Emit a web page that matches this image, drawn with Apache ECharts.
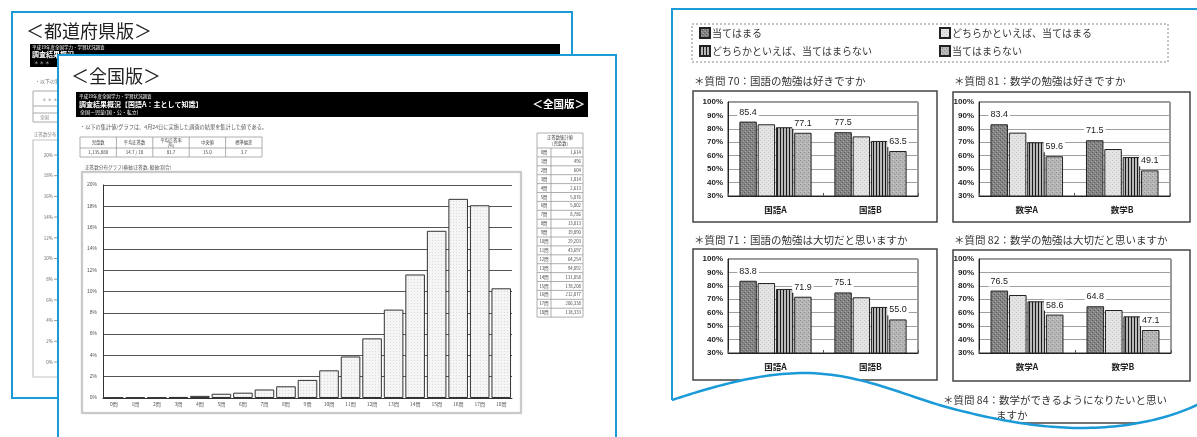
<!DOCTYPE html>
<html><head><meta charset="utf-8">
<script src="https://cdn.jsdelivr.net/npm/echarts@6/dist/echarts.min.js"></script>
<style>html,body{margin:0;padding:0;background:#fff}#c{width:1197px;height:437px}</style>
</head><body><div id="c"></div>
<script>
// ---------- DATA ----------
const histCategories = ['0問','1問','2問','3問','4問','5問','6問','7問','8問','9問','10問','11問','12問','13問','14問','15問','16問','17問','18問'];
const histPercent = [0.05,0.05,0.05,0.1,0.2,0.4,0.5,0.8,1.1,1.7,2.6,3.9,5.6,8.3,11.6,15.7,18.7,18.1,10.3];
const histTickLabels = ['20%','18%','16%','14%','12%','10%','8%','6%','4%','2%','0%'];
const countValues = ['1,614','496','604','1,014','2,613','5,076','5,802','8,786','13,013','19,890','29,203','43,697','64,254','94,092','131,058','178,208','212,077','206,338','118,333'];
const summaryHeaders = ['児童数','平均正答数','平均正答率\n(%)','中央値','標準偏差'];
const summaryValues = ['1,135,880','14.7 / 18','81.7','15.0','3.7'];

const seriesNames = ['当てはまる','どちらかといえば、当てはまる','どちらかといえば、当てはまらない','当てはまらない'];
const kokugoCats = ['国語A','国語B'];
const sugakuCats = ['数学A','数学B'];
// values per answer (series), per category
const q70 = [[85.4,77.5],[83.4,74.4],[81.2,71.0],[77.1,63.5]];
const q81 = [[83.4,71.5],[77.2,65.0],[70.0,59.0],[59.6,49.1]];
const q71 = [[83.8,75.1],[82.1,71.5],[77.7,64.3],[71.9,55.0]];
const q82 = [[76.5,64.8],[73.2,62.0],[68.5,57.3],[58.6,47.1]];
const chartTitles = ['＊質問 70：国語の勉強は好きですか','＊質問 81：数学の勉強は好きですか','＊質問 71：国語の勉強は大切だと思いますか','＊質問 82：数学の勉強は大切だと思いますか'];

// ---------- STYLE HELPERS ----------
const FONT = '"Noto Sans CJK JP","Noto Sans",sans-serif';
const BLUE = '#1b9ad8';
function pat(w,h,bg,px){
  const c=document.createElement('canvas');c.width=w;c.height=h;
  const g=c.getContext('2d');g.fillStyle=bg;g.fillRect(0,0,w,h);
  px.forEach(p=>{g.fillStyle=p[2];g.fillRect(p[0],p[1],1,1);});
  return {image:c,repeat:'repeat'};
}
function stripe(){
  const c=document.createElement('canvas');c.width=3;c.height=2;
  const g=c.getContext('2d');g.fillStyle='#b8b8b8';g.fillRect(0,0,3,2);g.fillStyle='#1a1a1a';g.fillRect(0,0,1,2);
  return {image:c,repeat:'repeat'};
}
const pats = [
  pat(4,4,'#858585',[[0,0,'#5c5c5c'],[2,2,'#5c5c5c'],[1,3,'#a2a2a2'],[3,1,'#a2a2a2']]),
  pat(4,4,'#e3e3e3',[[0,0,'#c6c6c6'],[2,2,'#c6c6c6']]),
  stripe(),
  pat(4,4,'#b6b6b6',[[0,0,'#909090'],[2,2,'#909090'],[1,3,'#d2d2d2']])
];
const histPat = pat(3,3,'#f5f5f5',[[0,0,'#dadada']]);

const G = [];
function rect(x,y,w,h,style,z){G.push({type:'rect',shape:{x,y,width:w,height:h},style,z,silent:true});}
function line(x1,y1,x2,y2,stroke,lw,z,dash){G.push({type:'line',shape:{x1,y1,x2,y2},style:{stroke,lineWidth:lw,lineDash:dash||null},z,silent:true});}
function text(x,y,t,size,color,z,extra){G.push({type:'text',x,y,style:Object.assign({text:t,fontSize:size,fontFamily:FONT,fill:color,verticalAlign:'middle',textVerticalAlign:'middle'},extra||{}),z,silent:true});}

// ---------- BACK DOCUMENT (都道府県版) ----------
rect(12,12,560,386,{fill:'#fff',stroke:BLUE,lineWidth:2},1);
text(26,31,'＜都道府県版＞',18,'#222',1);
rect(30,44,530,23,{fill:'#000'},1);
text(32,47,'平成19年度全国学力・学習状況調査',4.5,'#fff',1);
text(32,54,'調査結果概況',7,'#fff',1,{fontWeight:'bold'});
text(34,62,'＊ ＊ ＊',4.5,'#ccc',1);
text(35,81,'・以下の集計値',5,'#777',1);
rect(33,91,200,31,{fill:'none',stroke:'#aaa',lineWidth:1},1);
line(33,106,233,106,'#aaa',1,1);line(33,113,233,113,'#aaa',1,1);
text(42,99,'＊ ＊ ＊',4.5,'#888',1);
text(40,117,'全国',4.5,'#888',1);
text(34,134,'正答数分布グラフ',4.5,'#888',1);
rect(33,140,540,237,{fill:'none',stroke:'#c4c4c4',lineWidth:1.2},1);
histTickLabels.forEach((t,i)=>{text(53,155+i*20.7,t,4.5,'#666',1,{align:'right',textAlign:'right'});line(54,155+i*20.7,57,155+i*20.7,'#999',1,1);});

// ---------- FRONT DOCUMENT (全国版) ----------
rect(58,55,558,400,{fill:'#fff',stroke:BLUE,lineWidth:2},2);
text(71,76,'＜全国版＞',18,'#222',3);
rect(76,92,512,25,{fill:'#000'},3);
text(79,96,'平成19年度全国学力・学習状況調査',4.5,'#fff',4);
text(79,104,'調査結果概況【国語A：主として知識】',7,'#fff',4,{fontWeight:'bold'});
text(80,112,'全国－児童(国・公・私立)',5,'#fff',4);
text(585,104,'＜全国版＞',10.5,'#fff',4,{fontWeight:'bold',align:'right',textAlign:'right'});
text(80,127,'・以下の集計値/グラフは、4月24日に実施した調査の結果を集計した値である。',5.2,'#555',3);
// summary table
(function(){
  const x0=80,w=36.4,y0=137,h1=11,h2=9;
  rect(x0,y0,w*5,h1+h2,{fill:'#fff',stroke:'#999',lineWidth:0.8},3);
  line(x0,y0+h1,x0+w*5,y0+h1,'#999',0.8,3);
  for(let i=1;i<5;i++) line(x0+w*i,y0,x0+w*i,y0+h1+h2,'#999',0.8,3);
  summaryHeaders.forEach((t,i)=>text(x0+w*i+w/2,y0+h1/2,t,4.3,'#444',4,{align:'center',textAlign:'center',lineHeight:5}));
  summaryValues.forEach((t,i)=>text(x0+w*i+w/2,y0+h1+h2/2,t,4.5,'#444',4,{align:'center',textAlign:'center'}));
})();
// side count table
(function(){
  const x0=537,w=46,y0=133,hh=15,rh=8.9,xm=551;
  const n=histCategories.length;
  rect(x0,y0,w,hh+rh*n,{fill:'#fff',stroke:'#999',lineWidth:0.8},3);
  text(x0+w/2,y0+4.5,'正答数集計値',4.3,'#444',4,{align:'center',textAlign:'center'});
  text(x0+w/2,y0+10,'(児童数)',4.3,'#444',4,{align:'center',textAlign:'center'});
  line(xm,y0+hh,xm,y0+hh+rh*n,'#999',0.8,3);
  for(let i=0;i<n;i++){
    const y=y0+hh+rh*i;
    line(x0,y,x0+w,y,'#999',0.8,3);
    text((x0+xm)/2,y+rh/2,histCategories[i],4.3,'#444',4,{align:'center',textAlign:'center'});
    text(x0+w-2,y+rh/2,countValues[i],4.3,'#444',4,{align:'right',textAlign:'right'});
  }
})();
text(85,167,'正答数分布グラフ(横軸:正答数, 縦軸:割合)',4.6,'#555',3);
rect(82,172,439,241,{fill:'#fff',stroke:'#c0c0c0',lineWidth:1.5,shadowBlur:2,shadowColor:'rgba(0,0,0,0.15)'},3);

// ---------- RIGHT PANEL ----------
rect(692,24,476,38,{fill:'none',stroke:'#888',lineWidth:1,lineDash:[2,2]},3);
const titlePos=[[694,81],[954,81],[694,240],[954,240]];
titlePos.forEach((p,i)=>text(p[0],p[1],chartTitles[i],10.5,'#333',3));
const boxes=[[693,91,244,131],[953,92,237,130],[693,249,244,131],[953,250,237,131]];
boxes.forEach(b=>rect(b[0],b[1],b[2],b[3],{fill:'none',stroke:'#444',lineWidth:1.5},3));
text(943,400,'＊質問 84：数学ができるようになりたいと思い',10.5,'#333',3);
text(996,415,'ますか',10.5,'#333',3);
line(953,423,1190,423,'#444',1.5,3);
// wave edge
function cubic(p0,p1,p2,p3,n,out){for(let i=1;i<=n;i++){const t=i/n,u=1-t;out.push([u*u*u*p0[0]+3*u*u*t*p1[0]+3*u*t*t*p2[0]+t*t*t*p3[0],u*u*u*p0[1]+3*u*u*t*p1[1]+3*u*t*t*p2[1]+t*t*t*p3[1]]);}}
const wave=[[672,400]];
[[[672,400],[715,386],[760,373],[804,373]],[[804,373],[860,373],[905,396],[950,408]],[[950,408],[995,420],[1040,428],[1081,428]],[[1081,428],[1130,428],[1170,418],[1199,404]]].forEach(s=>cubic(s[0],s[1],s[2],s[3],30,wave));
G.push({type:'polygon',shape:{points:wave.concat([[1199,440],[672,440]])},style:{fill:'#fff'},z:30,silent:true});
G.push({type:'polyline',shape:{points:[[672,400],[672,9],[1199,9]]},style:{stroke:BLUE,lineWidth:2,fill:null},z:31,silent:true});
G.push({type:'polyline',shape:{points:wave},style:{stroke:BLUE,lineWidth:2.5,fill:null},z:31,silent:true});

// ---------- GRIDS / AXES / SERIES ----------
const grids=[
  {left:103,top:185,width:409,height:213,z:8},
  {left:728,top:102,width:190,height:94,show:true,borderColor:'#333',borderWidth:1,backgroundColor:'#fff',z:8},
  {left:979,top:102,width:191,height:94,show:true,borderColor:'#333',borderWidth:1,backgroundColor:'#fff',z:8},
  {left:728,top:259,width:190,height:94,show:true,borderColor:'#333',borderWidth:1,backgroundColor:'#fff',z:8},
  {left:979,top:259,width:192,height:94,show:true,borderColor:'#333',borderWidth:1,backgroundColor:'#fff',z:8}
];
const xAxes=[{type:'category',gridIndex:0,data:histCategories,z:9,
  axisLine:{lineStyle:{color:'#333',width:1}},axisTick:{show:false},
  axisLabel:{fontSize:5,color:'#555',margin:4,interval:0,fontFamily:FONT}}];
const yAxes=[{type:'value',gridIndex:0,min:0,max:20,interval:2,z:9,
  axisLine:{show:true,lineStyle:{color:'#333'}},axisTick:{show:false},
  axisLabel:{fontSize:5,color:'#555',margin:6,formatter:'{value}%'},
  splitLine:{lineStyle:{color:'#555',width:1}}}];
const series=[{type:'bar',xAxisIndex:0,yAxisIndex:0,data:histPercent,barCategoryGap:'9%',z:10,
  itemStyle:{color:histPat,borderColor:'#333',borderWidth:1}}];
const charts=[[kokugoCats,q70],[sugakuCats,q81],[kokugoCats,q71],[sugakuCats,q82]];
charts.forEach((c,k)=>{
  const gi=k+1;
  xAxes.push({type:'category',gridIndex:gi,data:c[0],z:9,
    axisLine:{lineStyle:{color:'#222',width:1}},
    axisTick:{show:true,inside:true,length:3,lineStyle:{color:'#555'}},
    axisLabel:{fontSize:8.5,fontWeight:'bold',color:'#222',margin:10,fontFamily:FONT}});
  yAxes.push({type:'value',gridIndex:gi,min:30,max:100,interval:10,z:9,
    axisLine:{show:true,lineStyle:{color:'#222'}},axisTick:{show:false},
    axisLabel:{fontSize:8,fontWeight:'bold',color:'#222',margin:5,formatter:'{value}%',fontFamily:'"Liberation Sans",Arial,sans-serif'},
    splitLine:{lineStyle:{color:'#a0a0a0',width:1}}});
  c[1].forEach((vals,i)=>{
    series.push({type:'bar',name:seriesNames[i],xAxisIndex:gi,yAxisIndex:gi,data:vals,z:10,
      barGap:'5%',barCategoryGap:'24%',
      itemStyle:{color:pats[i],borderColor:'#222',borderWidth:1},
      label:(i===0||i===3)?{show:true,position:'top',distance:4,fontSize:9,color:'#222',backgroundColor:'#fff',padding:[1,2],
        fontFamily:'"Liberation Sans",Arial,sans-serif',formatter:p=>Number(p.value).toFixed(1)}:{show:false}});
  });
});

const legendCommon={orient:'vertical',top:27,itemWidth:10,itemHeight:10,itemGap:6,padding:0,selectedMode:false,
  textStyle:{fontSize:10,color:'#333',fontFamily:FONT,padding:[0,0,0,-3]},icon:'rect',z:5};
const chart=echarts.init(document.getElementById('c'),null,{renderer:'canvas'});
chart.setOption({
  animation:false,
  backgroundColor:'#fff',
  grid:grids,xAxis:xAxes,yAxis:yAxes,series,
  legend:[Object.assign({left:699,data:[seriesNames[0],seriesNames[2]]},legendCommon),
          Object.assign({left:939,data:[seriesNames[1],seriesNames[3]]},legendCommon)],
  graphic:{elements:G}
});
</script></body></html>
